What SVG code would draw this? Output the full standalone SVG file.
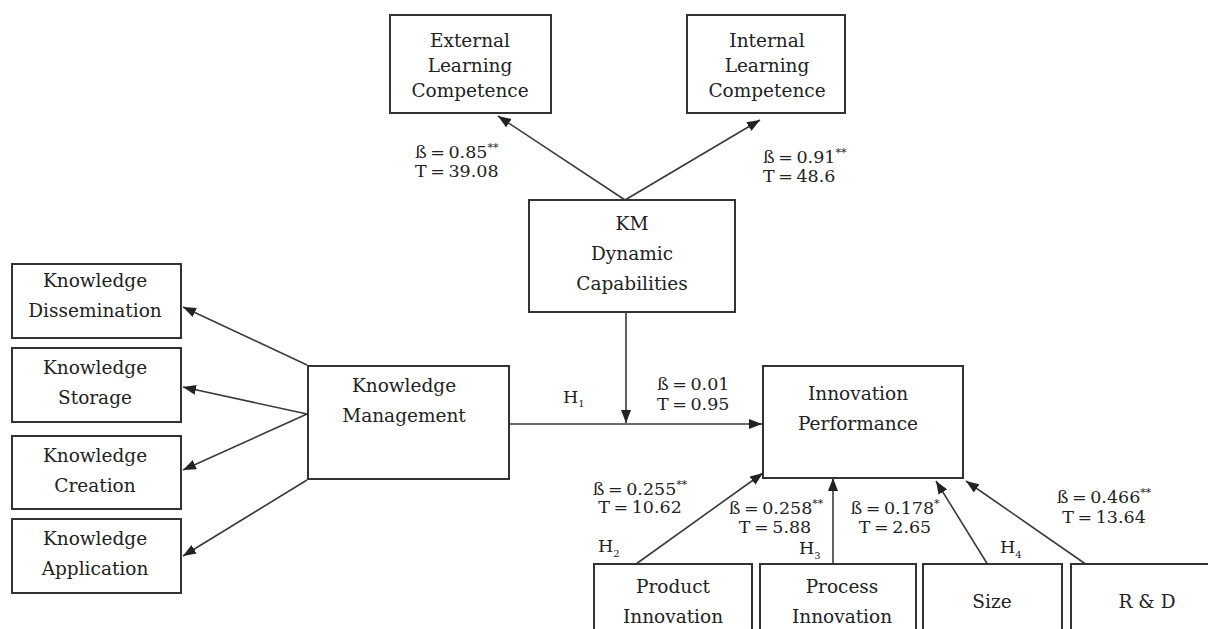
<svg xmlns="http://www.w3.org/2000/svg" width="1208" height="629" viewBox="0 0 1208 629">
<style>
  .box{fill:#fff;stroke:#333;stroke-width:2}
  .t{font-family:"DejaVu Serif","Liberation Serif",serif;font-size:18.5px;fill:#222;text-anchor:middle}
  .lbl{font-family:"DejaVu Serif","Liberation Serif",serif;font-size:17.5px;fill:#222;word-spacing:-2px}
  .m{text-anchor:middle}
  .sup{font-size:11px}
  .sub{font-size:10px}
  .c{fill:none;stroke:#3a3a3a;stroke-width:1.6}
</style>
<defs>
  <marker id="ah" markerUnits="userSpaceOnUse" markerWidth="14" markerHeight="10" refX="13" refY="5" orient="auto">
    <path d="M0,0 L13,5 L0,10 z" fill="#222"/>
  </marker>
</defs>
<rect width="1208" height="629" fill="#fff"/>

<g id="connectors">
  <line class="c" x1="625" y1="200" x2="498" y2="116" marker-end="url(#ah)"/>
  <line class="c" x1="625" y1="200" x2="760" y2="120" marker-end="url(#ah)"/>
  <line class="c" x1="307" y1="365" x2="183" y2="307" marker-end="url(#ah)"/>
  <line class="c" x1="307" y1="414" x2="183" y2="387" marker-end="url(#ah)"/>
  <line class="c" x1="307" y1="414" x2="183" y2="470" marker-end="url(#ah)"/>
  <line class="c" x1="307" y1="480" x2="183" y2="556" marker-end="url(#ah)"/>
  <line class="c" x1="509" y1="424" x2="762" y2="424" marker-end="url(#ah)"/>
  <line class="c" x1="626" y1="312" x2="626" y2="423" marker-end="url(#ah)"/>
  <line class="c" x1="636" y1="564" x2="763" y2="473" marker-end="url(#ah)"/>
  <line class="c" x1="833" y1="564" x2="833" y2="478" marker-end="url(#ah)"/>
  <line class="c" x1="988" y1="565" x2="936" y2="481" marker-end="url(#ah)"/>
  <line class="c" x1="1087" y1="565" x2="966" y2="481" marker-end="url(#ah)"/>
</g>

<g id="external">
  <rect class="box" x="390" y="15" width="161" height="98"/>
  <text class="t" x="470" y="47">External</text>
  <text class="t" x="470" y="72">Learning</text>
  <text class="t" x="470" y="97">Competence</text>
</g>
<g id="internal">
  <rect class="box" x="687" y="15" width="158" height="98"/>
  <text class="t" x="767" y="47">Internal</text>
  <text class="t" x="767" y="72">Learning</text>
  <text class="t" x="767" y="97">Competence</text>
</g>
<g id="kmdc">
  <rect class="box" x="529" y="200" width="206" height="112"/>
  <text class="t" x="632" y="230">KM</text>
  <text class="t" x="632" y="260">Dynamic</text>
  <text class="t" x="632" y="290">Capabilities</text>
</g>
<g id="dissemination">
  <rect class="box" x="12" y="264" width="169" height="74"/>
  <text class="t" x="95" y="287">Knowledge</text>
  <text class="t" x="95" y="317">Dissemination</text>
</g>
<g id="storage">
  <rect class="box" x="12" y="348" width="169" height="74"/>
  <text class="t" x="95" y="374">Knowledge</text>
  <text class="t" x="95" y="404">Storage</text>
</g>
<g id="creation">
  <rect class="box" x="12" y="436" width="169" height="73"/>
  <text class="t" x="95" y="462">Knowledge</text>
  <text class="t" x="95" y="492">Creation</text>
</g>
<g id="application">
  <rect class="box" x="12" y="519" width="169" height="74"/>
  <text class="t" x="95" y="545">Knowledge</text>
  <text class="t" x="95" y="575">Application</text>
</g>
<g id="km">
  <rect class="box" x="308" y="366" width="201" height="113"/>
  <text class="t" x="404" y="392">Knowledge</text>
  <text class="t" x="404" y="422">Management</text>
</g>
<g id="innovation">
  <rect class="box" x="763" y="366" width="200" height="112"/>
  <text class="t" x="858" y="400">Innovation</text>
  <text class="t" x="858" y="430">Performance</text>
</g>
<g id="product">
  <rect class="box" x="594" y="564" width="158" height="80"/>
  <text class="t" x="673" y="593">Product</text>
  <text class="t" x="673" y="623">Innovation</text>
</g>
<g id="process">
  <rect class="box" x="760" y="564" width="156" height="80"/>
  <text class="t" x="842" y="593">Process</text>
  <text class="t" x="842" y="623">Innovation</text>
</g>
<g id="size">
  <rect class="box" x="923" y="564" width="139" height="80"/>
  <text class="t" x="992" y="608">Size</text>
</g>
<g id="rd">
  <rect class="box" x="1071" y="564" width="150" height="80"/>
  <text class="t" x="1147" y="608">R &amp; D</text>
</g>

<g id="labels">
  <text class="lbl" x="415" y="158">ß = 0.85<tspan class="sup" dy="-7">**</tspan></text>
  <text class="lbl" x="415" y="177">T = 39.08</text>
  <text class="lbl" x="763" y="163">ß = 0.91<tspan class="sup" dy="-7">**</tspan></text>
  <text class="lbl" x="763" y="182">T = 48.6</text>
  <text class="lbl" x="657" y="390">ß = 0.01</text>
  <text class="lbl" x="657" y="410">T = 0.95</text>
  <text class="lbl" x="563" y="403">H<tspan class="sub" dy="4">1</tspan></text>
  <text class="lbl m" x="640" y="495">ß = 0.255<tspan class="sup" dy="-7">**</tspan></text>
  <text class="lbl m" x="640" y="513">T = 10.62</text>
  <text class="lbl m" x="776" y="514">ß = 0.258<tspan class="sup" dy="-7">**</tspan></text>
  <text class="lbl m" x="775" y="533">T = 5.88</text>
  <text class="lbl m" x="895" y="514">ß = 0.178<tspan class="sup" dy="-7">*</tspan></text>
  <text class="lbl m" x="895" y="533">T = 2.65</text>
  <text class="lbl m" x="1104" y="503">ß = 0.466<tspan class="sup" dy="-7">**</tspan></text>
  <text class="lbl m" x="1104" y="523">T = 13.64</text>
  <text class="lbl" x="598" y="552">H<tspan class="sub" dy="5">2</tspan></text>
  <text class="lbl" x="799" y="554">H<tspan class="sub" dy="5">3</tspan></text>
  <text class="lbl" x="1000" y="553">H<tspan class="sub" dy="5">4</tspan></text>
</g>
</svg>
